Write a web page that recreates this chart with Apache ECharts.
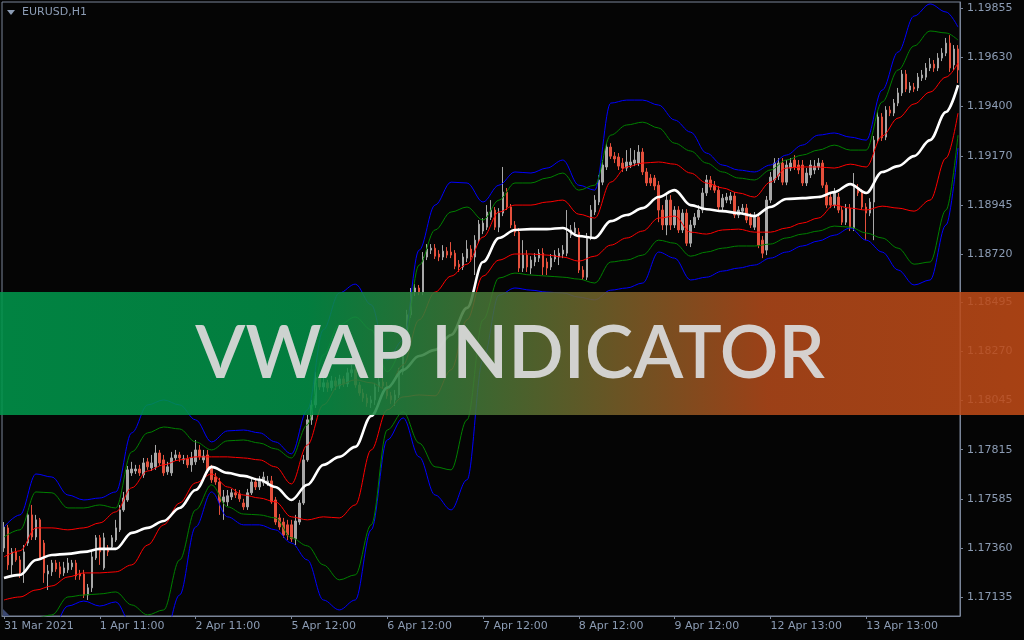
<!DOCTYPE html>
<html><head><meta charset="utf-8">
<script src="https://cdn.jsdelivr.net/npm/echarts@6/dist/echarts.min.js"></script>
<style>html,body{margin:0;padding:0;background:#050505;}#c{width:1024px;height:640px;}</style>
</head><body><div id="c"></div>
<script>
// ---- tick labels ----
const xTickLabels = ['31 Mar 2021','1 Apr 11:00','2 Apr 11:00','5 Apr 12:00','6 Apr 12:00','7 Apr 12:00','8 Apr 12:00','9 Apr 12:00','12 Apr 13:00','13 Apr 13:00'];
const yTickValues = [1.17135,1.17360,1.17585,1.17815,1.18045,1.18270,1.18495,1.18720,1.18945,1.19170,1.19400,1.19630,1.19855];
const yMin = 1.17047, yMax = 1.19883;

// ---- candles: [open, close, low, high] ----
const bars = [
[1.17361,1.17458,1.17343,1.17481],[1.17454,1.17283,1.17260,1.17468],[1.17283,1.17343,1.17237,1.17361],[1.17343,1.17306,1.17297,1.17361],
[1.17306,1.17246,1.17223,1.17324],[1.17246,1.17343,1.17200,1.17375],[1.17384,1.17514,1.17371,1.17528],[1.17514,1.17412,1.17398,1.17560],
[1.17412,1.17491,1.17398,1.17514],[1.17491,1.17315,1.17306,1.17500],[1.17384,1.17246,1.17200,1.17398],[1.17241,1.17255,1.17167,1.17283],
[1.17251,1.17292,1.17232,1.17306],[1.17292,1.17264,1.17251,1.17306],[1.17274,1.17241,1.17223,1.17297],[1.17246,1.17269,1.17232,1.17297],
[1.17260,1.17292,1.17246,1.17315],[1.17274,1.17292,1.17260,1.17306],[1.17292,1.17232,1.17214,1.17306],[1.17241,1.17232,1.17214,1.17260],
[1.17241,1.17144,1.17130,1.17260],[1.17144,1.17177,1.17121,1.17195],[1.17177,1.17320,1.17158,1.17352],[1.17315,1.17408,1.17306,1.17421],
[1.17408,1.17343,1.17283,1.17421],[1.17269,1.17408,1.17260,1.17431],[1.17361,1.17343,1.17324,1.17375],[1.17366,1.17408,1.17352,1.17421],
[1.17398,1.17454,1.17389,1.17491],[1.17445,1.17537,1.17435,1.17560],[1.17537,1.17592,1.17528,1.17620],[1.17583,1.17722,1.17574,1.17740],
[1.17708,1.17726,1.17694,1.17759],[1.17717,1.17726,1.17703,1.17745],[1.17726,1.17708,1.17694,1.17745],[1.17699,1.17754,1.17685,1.17777],
[1.17759,1.17736,1.17722,1.17777],[1.17731,1.17754,1.17717,1.17791],[1.17736,1.17800,1.17722,1.17837],[1.17800,1.17754,1.17740,1.17814],
[1.17768,1.17708,1.17694,1.17791],[1.17713,1.17736,1.17699,1.17759],[1.17708,1.17777,1.17694,1.17805],[1.17777,1.17791,1.17763,1.17814],
[1.17791,1.17777,1.17759,1.17805],[1.17768,1.17773,1.17749,1.17791],[1.17773,1.17745,1.17731,1.17791],[1.17745,1.17777,1.17713,1.17805],
[1.17759,1.17814,1.17745,1.17860],[1.17814,1.17782,1.17768,1.17837],[1.17768,1.17786,1.17754,1.17814],[1.17791,1.17722,1.17708,1.17814],
[1.17731,1.17676,1.17662,1.17745],[1.17689,1.17666,1.17653,1.17708],[1.17666,1.17574,1.17514,1.17685],[1.17574,1.17597,1.17491,1.17629],
[1.17574,1.17602,1.17555,1.17629],[1.17597,1.17616,1.17583,1.17634],[1.17616,1.17606,1.17592,1.17634],[1.17611,1.17588,1.17574,1.17629],
[1.17569,1.17551,1.17537,1.17588],[1.17551,1.17616,1.17537,1.17634],[1.17616,1.17666,1.17606,1.17685],[1.17666,1.17643,1.17629,1.17685],
[1.17643,1.17676,1.17629,1.17694],[1.17662,1.17689,1.17648,1.17713],[1.17662,1.17671,1.17648,1.17694],[1.17671,1.17574,1.17565,1.17694],
[1.17583,1.17481,1.17468,1.17597],[1.17500,1.17458,1.17445,1.17518],[1.17481,1.17421,1.17408,1.17500],[1.17468,1.17421,1.17398,1.17491],
[1.17468,1.17403,1.17389,1.17491],[1.17403,1.17486,1.17375,1.17514],[1.17481,1.17569,1.17468,1.17583],[1.17569,1.17768,1.17560,1.17791],
[1.17768,1.17953,1.17759,1.17976],[1.17953,1.18022,1.17930,1.18045],[1.18022,1.18147,1.18008,1.18175],[1.18147,1.18105,1.18091,1.18165],
[1.18105,1.18124,1.18082,1.18147],[1.18124,1.18101,1.18082,1.18138],[1.18101,1.18133,1.18087,1.18156],[1.18133,1.18110,1.18091,1.18151],
[1.18110,1.18142,1.18096,1.18161],[1.18142,1.18119,1.18105,1.18156],[1.18119,1.18170,1.18105,1.18193],[1.18170,1.18184,1.18151,1.18207],
[1.18184,1.18114,1.18101,1.18198],[1.18114,1.18077,1.18064,1.18128],[1.18077,1.18054,1.18036,1.18096],[1.18054,1.18031,1.18013,1.18073],
[1.18031,1.18045,1.18008,1.18064],[1.18045,1.18105,1.18022,1.18124],[1.18105,1.18128,1.18082,1.18147],[1.18128,1.18110,1.18096,1.18147],
[1.18110,1.18064,1.18050,1.18128],[1.18064,1.18045,1.18027,1.18082],[1.18045,1.18068,1.18017,1.18091],[1.18068,1.18175,1.18054,1.18193],
[1.18175,1.18322,1.18161,1.18345],[1.18322,1.18438,1.18308,1.18461],[1.18438,1.18543,1.18424,1.18562],[1.18543,1.18562,1.18525,1.18580],
[1.18562,1.18543,1.18529,1.18576],[1.18543,1.18705,1.18529,1.18728],[1.18705,1.18742,1.18691,1.18765],[1.18737,1.18746,1.18719,1.18765],
[1.18746,1.18709,1.18696,1.18765],[1.18719,1.18705,1.18686,1.18737],[1.18705,1.18732,1.18691,1.18760],[1.18732,1.18714,1.18700,1.18751],
[1.18728,1.18714,1.18700,1.18774],[1.18723,1.18663,1.18649,1.18737],[1.18672,1.18659,1.18636,1.18691],[1.18659,1.18705,1.18645,1.18723],
[1.18700,1.18742,1.18682,1.18783],[1.18742,1.18705,1.18682,1.18760],[1.18705,1.18783,1.18622,1.18806],[1.18783,1.18857,1.18769,1.18876],
[1.18825,1.18862,1.18811,1.18885],[1.18843,1.18913,1.18830,1.18945],[1.18889,1.18922,1.18876,1.18968],[1.18922,1.18843,1.18830,1.18936],
[1.18843,1.18908,1.18820,1.18931],[1.18908,1.19005,1.18894,1.19121],[1.19005,1.18936,1.18922,1.19024],[1.18936,1.18853,1.18839,1.18950],
[1.18853,1.18820,1.18802,1.18871],[1.18820,1.18654,1.18636,1.18839],[1.18654,1.18714,1.18636,1.18783],[1.18714,1.18659,1.18636,1.18737],
[1.18654,1.18691,1.18626,1.18709],[1.18682,1.18705,1.18663,1.18723],[1.18700,1.18723,1.18682,1.18742],[1.18723,1.18659,1.18622,1.18746],
[1.18682,1.18654,1.18622,1.18700],[1.18659,1.18700,1.18645,1.18719],[1.18696,1.18714,1.18682,1.18737],[1.18705,1.18723,1.18668,1.18746],
[1.18719,1.18737,1.18700,1.18760],[1.18723,1.18816,1.18709,1.18922],[1.18806,1.18830,1.18793,1.18853],[1.18816,1.18839,1.18802,1.18866],
[1.18820,1.18645,1.18631,1.18839],[1.18645,1.18612,1.18599,1.18663],[1.18612,1.18797,1.18599,1.18816],[1.18797,1.18922,1.18783,1.18945],
[1.18913,1.18968,1.18899,1.18991],[1.18959,1.19061,1.18945,1.19084],[1.19051,1.19130,1.19037,1.19153],[1.19121,1.19213,1.19107,1.19231],
[1.19213,1.19171,1.19158,1.19231],[1.19171,1.19158,1.19139,1.19190],[1.19167,1.19125,1.19107,1.19185],[1.19139,1.19116,1.19098,1.19162],
[1.19116,1.19144,1.19102,1.19199],[1.19130,1.19144,1.19116,1.19208],[1.19139,1.19153,1.19125,1.19199],[1.19139,1.19190,1.19125,1.19222],
[1.19190,1.19098,1.19084,1.19208],[1.19098,1.19047,1.19033,1.19116],[1.19070,1.19047,1.19033,1.19088],[1.19070,1.19033,1.19014,1.19084],
[1.19037,1.18922,1.18866,1.19056],[1.18922,1.18853,1.18830,1.18945],[1.18853,1.18968,1.18806,1.18991],[1.18968,1.18853,1.18830,1.18991],
[1.18853,1.18922,1.18839,1.18940],[1.18922,1.18830,1.18816,1.18940],[1.18830,1.18908,1.18816,1.18926],[1.18908,1.18769,1.18756,1.18926],
[1.18769,1.18853,1.18751,1.18876],[1.18853,1.18889,1.18839,1.18908],[1.18889,1.18922,1.18876,1.18945],[1.18922,1.19001,1.18908,1.19024],
[1.19001,1.19061,1.18987,1.19084],[1.19061,1.19028,1.19014,1.19079],[1.19037,1.19014,1.19001,1.19056],[1.19014,1.18936,1.18922,1.19033],
[1.18936,1.18977,1.18922,1.18996],[1.18968,1.18982,1.18954,1.19001],[1.18968,1.18987,1.18950,1.19005],[1.18987,1.18899,1.18885,1.19005],
[1.18899,1.18922,1.18885,1.18940],[1.18917,1.18931,1.18903,1.18950],[1.18931,1.18876,1.18862,1.18950],[1.18889,1.18853,1.18839,1.18908],
[1.18843,1.18889,1.18830,1.18913],[1.18889,1.18760,1.18746,1.18908],[1.18783,1.18723,1.18700,1.18802],[1.18737,1.18968,1.18714,1.18987],
[1.18968,1.19074,1.18954,1.19098],[1.19061,1.19139,1.19047,1.19162],[1.19079,1.19139,1.19061,1.19162],[1.19139,1.19051,1.19037,1.19162],
[1.19051,1.19130,1.19037,1.19153],[1.19116,1.19139,1.19102,1.19162],[1.19153,1.19121,1.19107,1.19176],[1.19130,1.19107,1.19088,1.19153],
[1.19130,1.19047,1.19033,1.19153],[1.19047,1.19093,1.19033,1.19116],[1.19084,1.19130,1.19070,1.19153],[1.19107,1.19125,1.19088,1.19153],
[1.19121,1.19139,1.19107,1.19162],[1.19139,1.19037,1.19024,1.19153],[1.19037,1.18945,1.18931,1.19051],[1.18982,1.18945,1.18931,1.19001],
[1.18945,1.19001,1.18931,1.19024],[1.18982,1.18922,1.18908,1.19001],[1.18922,1.18866,1.18853,1.18940],[1.18866,1.18931,1.18853,1.18950],
[1.18931,1.18839,1.18825,1.18950],[1.18839,1.19028,1.18825,1.19093],[1.19024,1.19001,1.18987,1.19042],[1.19001,1.18936,1.18922,1.19019],
[1.18936,1.18908,1.18783,1.18954],[1.18908,1.18959,1.18894,1.18977],[1.18959,1.19245,1.18783,1.19264],[1.19245,1.19352,1.19231,1.19375],
[1.19352,1.19255,1.19241,1.19370],[1.19259,1.19384,1.19245,1.19402],[1.19384,1.19370,1.19356,1.19402],[1.19370,1.19416,1.19356,1.19435],
[1.19416,1.19463,1.19402,1.19486],[1.19463,1.19550,1.19449,1.19569],[1.19550,1.19481,1.19467,1.19569],[1.19476,1.19495,1.19463,1.19513],
[1.19490,1.19481,1.19467,1.19509],[1.19486,1.19536,1.19472,1.19555],[1.19532,1.19546,1.19518,1.19569],[1.19536,1.19578,1.19523,1.19601],
[1.19578,1.19596,1.19564,1.19624],[1.19596,1.19578,1.19560,1.19615],[1.19578,1.19624,1.19564,1.19647],[1.19624,1.19647,1.19610,1.19670],
[1.19647,1.19693,1.19633,1.19717],[1.19693,1.19578,1.19560,1.19730],[1.19592,1.19666,1.19569,1.19684],[1.19666,1.19569,1.19509,1.19684]
];

// ---- indicator lines, sampled at these bar indices ----
const lineIdx = [0,4,8,12,16,20,24,28,32,36,40,44,48,52,56,60,64,68,72,76,80,84,88,92,96,100,104,108,112,116,120,124,128,132,136,140,144,148,152,156,160,164,168,172,176,180,184,188,192,196,200,204,208,212,216,220,224,228,232,236,239];
const vwap = [1.17223,1.17237,1.17306,1.17329,1.17334,1.17343,1.17357,1.17357,1.17431,1.17454,1.17486,1.17546,1.17629,1.17736,1.17708,1.17694,1.17676,1.17643,1.17583,1.17653,1.17745,1.17782,1.17828,1.17971,1.18101,1.18184,1.18248,1.18276,1.18345,1.18470,1.18682,1.18793,1.18830,1.18834,1.18834,1.18839,1.18802,1.18793,1.18871,1.18899,1.18931,1.18982,1.19014,1.18945,1.18926,1.18917,1.18908,1.18894,1.18936,1.18973,1.18977,1.18982,1.19005,1.19042,1.19001,1.19098,1.19125,1.19171,1.19245,1.19375,1.19499];
const upper1 = [1.17320,1.17348,1.17454,1.17454,1.17445,1.17454,1.17477,1.17528,1.17639,1.17717,1.17745,1.17768,1.17782,1.17782,1.17782,1.17777,1.17768,1.17736,1.17657,1.17837,1.18022,1.18114,1.18138,1.18124,1.18091,1.18207,1.18415,1.18543,1.18617,1.18672,1.18797,1.18913,1.18945,1.18945,1.18959,1.18968,1.18903,1.18885,1.19051,1.19121,1.19139,1.19144,1.19134,1.19093,1.19047,1.19024,1.19001,1.18982,1.19051,1.19116,1.19121,1.19121,1.19116,1.19134,1.19121,1.19264,1.19347,1.19412,1.19467,1.19536,1.19601];
const upper2 = [1.17412,1.17445,1.17620,1.17616,1.17546,1.17546,1.17560,1.17546,1.17805,1.17893,1.17920,1.17911,1.17851,1.17814,1.17856,1.17860,1.17846,1.17819,1.17777,1.17930,1.18253,1.18392,1.18428,1.18369,1.18175,1.18276,1.18668,1.18830,1.18913,1.18936,1.18876,1.18968,1.19047,1.19047,1.19070,1.19093,1.19014,1.19037,1.19268,1.19315,1.19328,1.19301,1.19231,1.19195,1.19139,1.19098,1.19070,1.19061,1.19107,1.19153,1.19176,1.19199,1.19222,1.19199,1.19199,1.19421,1.19569,1.19680,1.19749,1.19740,1.19707];
const upper3 = [1.17458,1.17514,1.17703,1.17689,1.17606,1.17583,1.17592,1.17620,1.17893,1.18022,1.18045,1.18022,1.17953,1.17851,1.17902,1.17906,1.17893,1.17851,1.17796,1.17999,1.18369,1.18539,1.18580,1.18484,1.18230,1.18322,1.18737,1.18945,1.19051,1.19047,1.18959,1.19037,1.19098,1.19093,1.19116,1.19153,1.19037,1.19014,1.19416,1.19430,1.19430,1.19407,1.19338,1.19282,1.19185,1.19130,1.19107,1.19098,1.19130,1.19176,1.19222,1.19268,1.19278,1.19259,1.19245,1.19476,1.19652,1.19818,1.19874,1.19837,1.19767];
const lower1 = [1.17121,1.17135,1.17167,1.17186,1.17227,1.17246,1.17246,1.17251,1.17283,1.17375,1.17468,1.17569,1.17662,1.17703,1.17643,1.17606,1.17592,1.17574,1.17505,1.17491,1.17505,1.17500,1.17560,1.17814,1.17999,1.18059,1.18068,1.18064,1.18184,1.18415,1.18617,1.18691,1.18719,1.18719,1.18714,1.18705,1.18686,1.18709,1.18760,1.18793,1.18825,1.18885,1.18894,1.18820,1.18811,1.18830,1.18834,1.18820,1.18820,1.18839,1.18862,1.18885,1.18945,1.18931,1.18922,1.18940,1.18931,1.18917,1.18968,1.19162,1.19370];
const lower2 = [1.17006,1.17019,1.17038,1.17052,1.17135,1.17144,1.17149,1.17158,1.17098,1.17052,1.17075,1.17306,1.17537,1.17653,1.17551,1.17518,1.17514,1.17500,1.17408,1.17371,1.17283,1.17214,1.17237,1.17468,1.17906,1.17990,1.17846,1.17736,1.17722,1.17953,1.18415,1.18608,1.18631,1.18622,1.18617,1.18612,1.18603,1.18585,1.18682,1.18691,1.18714,1.18783,1.18769,1.18709,1.18728,1.18746,1.18756,1.18756,1.18765,1.18793,1.18811,1.18825,1.18848,1.18843,1.18816,1.18793,1.18746,1.18672,1.18682,1.18922,1.19268];
const lower3 = [1.16913,1.16936,1.16959,1.16983,1.17093,1.17116,1.17093,1.17112,1.17006,1.16890,1.16936,1.17144,1.17458,1.17620,1.17505,1.17468,1.17468,1.17445,1.17384,1.17306,1.17121,1.17075,1.17121,1.17445,1.17860,1.17962,1.17782,1.17606,1.17537,1.17676,1.18230,1.18529,1.18562,1.18552,1.18543,1.18539,1.18520,1.18507,1.18552,1.18562,1.18585,1.18728,1.18700,1.18599,1.18612,1.18640,1.18654,1.18668,1.18700,1.18728,1.18756,1.18779,1.18806,1.18839,1.18783,1.18728,1.18645,1.18576,1.18599,1.18853,1.19208];

// ---- styling ----
const labelColor = '#8c9cb4';
const axisColor = '#7a8599';
const fontFamily = 'DejaVu Sans';
const bullColor = '#a8a8a8';
const bearColor = '#e4503c';

function lineSeries(name, values, color, width, z) {
  return {
    name: name, type: 'line', xAxisIndex: 1, yAxisIndex: 0,
    data: lineIdx.map((x, k) => [x, values[k]]),
    showSymbol: false, smooth: 0.35, smoothMonotone: 'x',
    lineStyle: { color: color, width: width }, z: z, silent: true, clip: true
  };
}

const chart = echarts.init(document.getElementById('c'), null, { renderer: 'canvas', width: 1024, height: 640 });
chart.setOption({
  backgroundColor: '#050505',
  animation: false,
  grid: { left: 2, top: 2, width: 958, height: 614, show: true, borderColor: axisColor, borderWidth: 1, backgroundColor: 'transparent' },
  xAxis: [{
    type: 'category', data: bars.map((_, i) => String(i)), boundaryGap: true,
    axisLine: { show: true, lineStyle: { color: axisColor } },
    axisTick: { show: true, alignWithLabel: true, length: 3, interval: (i) => i % 24 === 0, lineStyle: { color: axisColor } },
    axisLabel: {
      show: true, interval: (i) => i % 24 === 0, align: 'left', margin: 5,
      color: labelColor, fontFamily: fontFamily, fontSize: 11,
      formatter: (v) => xTickLabels[Number(v) / 24] || ''
    },
    splitLine: { show: false }
  }, {
    type: 'value', min: -0.5, max: 239.5, show: false, gridIndex: 0
  }],
  yAxis: [{
    type: 'value', position: 'right', min: yMin, max: yMax,
    axisLine: { show: true, onZero: false, lineStyle: { color: axisColor } },
    axisTick: { show: true, length: 3, customValues: yTickValues, lineStyle: { color: axisColor } },
    axisLabel: { show: true, customValues: yTickValues, margin: 7, color: labelColor, fontFamily: fontFamily, fontSize: 11, formatter: (v) => v.toFixed(5) },
    splitLine: { show: false }
  }],
  series: [
    {
      type: 'candlestick', data: bars, barWidth: 2, z: 2, silent: true,
      itemStyle: { color: bullColor, color0: bearColor, borderColor: bullColor, borderColor0: bearColor, borderWidth: 1 }
    },
    lineSeries('upper3', upper3, '#0000ff', 1, 3),
    lineSeries('lower3', lower3, '#0000ff', 1, 3),
    lineSeries('upper2', upper2, '#008000', 1, 3),
    lineSeries('lower2', lower2, '#008000', 1, 3),
    lineSeries('upper1', upper1, '#ff0000', 1, 3),
    lineSeries('lower1', lower1, '#ff0000', 1, 3),
    lineSeries('vwap', vwap, '#ffffff', 2.6, 4)
  ],
  graphic: [
    { type: 'polygon', z: 50, shape: { points: [[7, 10], [15, 10], [11, 15]] }, style: { fill: labelColor } },
    { type: 'text', z: 50, style: { text: 'EURUSD,H1', x: 22, y: 12, fill: labelColor, font: '11px "DejaVu Sans"', verticalAlign: 'middle' } },
    { type: 'polygon', z: 50, shape: { points: [[3, 609], [3, 616], [10, 616]] }, style: { fill: '#3a4770' } },
    {
      type: 'rect', z: 100, shape: { x: 0, y: 292, width: 1024, height: 123 },
      style: {
        opacity: 0.87,
        fill: { type: 'linear', x: 0, y: 0, x2: 1, y2: 0, colorStops: [
          { offset: 0, color: '#00964b' }, { offset: 0.3, color: '#028f47' },
          { offset: 0.75, color: '#b2491a' }, { offset: 1, color: '#bf4a16' }
        ] }
      }
    },
    { type: 'text', z: 101, style: { text: 'VWAP INDICATOR', x: 510, y: 354, fill: '#d8d8d8', opacity: 0.95, font: '600 73px Lato', align: 'center', verticalAlign: 'middle' } }
  ]
});
</script>
</body></html>
